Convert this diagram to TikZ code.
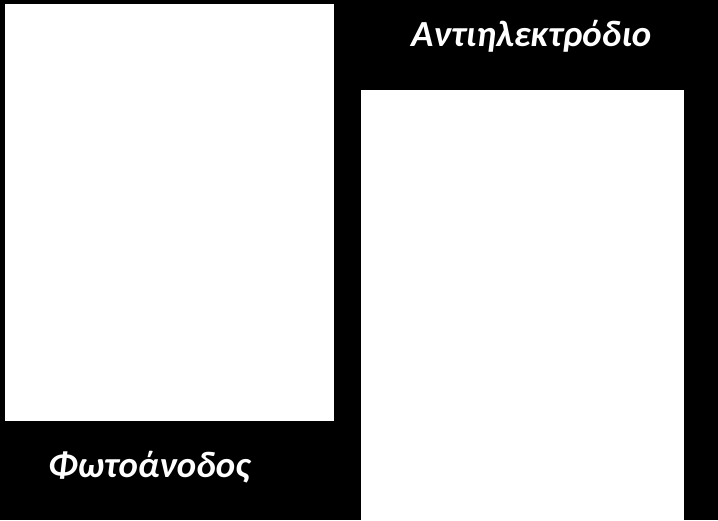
\documentclass[tikz,border=0pt]{standalone}
\usepackage{fontspec}
\setmainfont{Carlito}
\begin{document}
\begin{tikzpicture}[x=1pt,y=-1pt,
  panel/.style={fill=white,draw=none},
  lbl/.style={text=white,font=\fontsize{36.8}{42}\selectfont\bfseries\itshape,inner sep=0pt,anchor=base west}]
\fill[black] (0,0) rectangle (718,520);
\useasboundingbox (0,0) rectangle (718,520);
\path[panel] (5,4) rectangle (334,421);
\path[panel] (361,90) rectangle (684,520);
\node[lbl] (anti) at (411,46) {Αντιηλεκτρόδιο};
\node[lbl] (photo) at (48,477) {Φωτοάνοδος};
\end{tikzpicture}
\end{document}
